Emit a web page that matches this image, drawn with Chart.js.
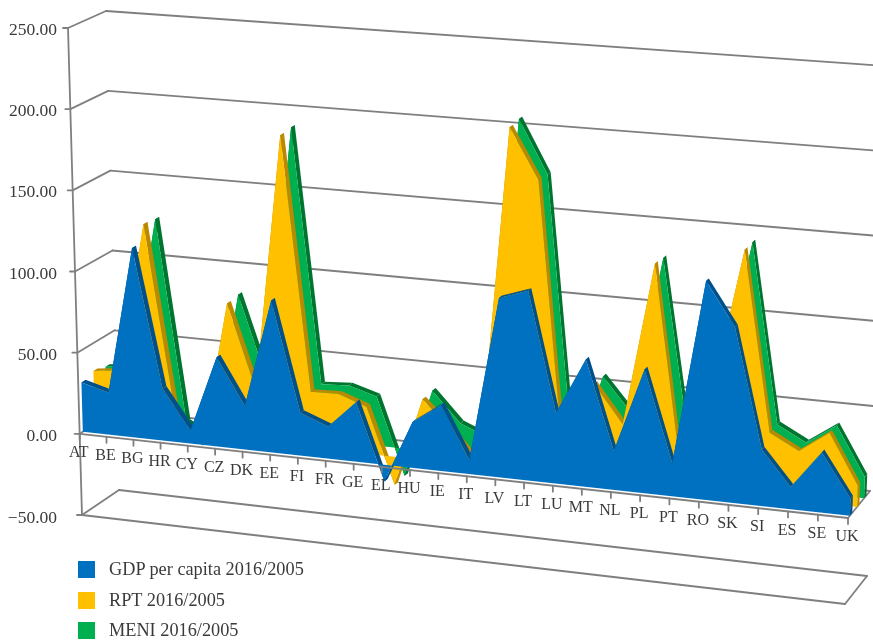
<!DOCTYPE html>
<html>
<head>
<meta charset="utf-8">
<title>GDP, RPT and MENI 2016/2005</title>
<style>
  body { margin: 0; background: #fff; }
  #wrap { position: relative; width: 873px; height: 640px; overflow: hidden; }
  #legend { position: absolute; left: 78px; top: 561px; font: 18.3px "Liberation Serif", serif; color: #3a3a3a; }
  #legend div { display: flex; align-items: center; height: 17px; margin-bottom: 13.5px; white-space: nowrap; }
  #legend i { width: 17px; height: 17px; margin-right: 14px; }
</style>
</head>
<body>
<div id="wrap">
  <canvas id="chart" width="873" height="640"></canvas>
  <div id="legend"></div>
</div>
<script src="https://cdn.jsdelivr.net/npm/chart.js@4/dist/chart.umd.min.js"></script>
<script>
const countries = ["AT","BE","BG","HR","CY","CZ","DK","EE","FI","FR","GE","EL","HU","IE","IT","LV","LT","LU","MT","NL","PL","PT","RO","SK","SI","ES","SE","UK"];
const gdp = [30.5,26,116.5,32,8,54.5,26.5,92.5,26,19.5,36,-10,27.6,39.6,8.5,107,113,42,75.5,23,73,19.5,128.5,103,33,13,35,10];
const rpt = [33,35,127,14,-6,83,32,189,34,34.5,28.5,-17,36.5,20,1,205,175,2,56,34,131,12,57,144,38,29,41.5,12.5];
const meni = [31,33,126,2,-8,84,34,190,34,35,30,-16.5,37,19,12,206,174,4,56,36,130,22,57,144,38,29,41,12.5];

const yTicks = [-50, 0, 50, 100, 150, 200, 250];
const seriesNames = ["GDP per capita 2016/2005", "RPT 2016/2005", "MENI 2016/2005"];
const faceColors = ["#0070c0", "#ffc000", "#00b050"];
const sideColors = ["#00508c", "#b98a00", "#00752f"];
const depths = [0.085, 0.41, 0.73];
const ribbon = 0.11;

/* ---------- 3D BOX (corners as seen on the page) ---------- */
const box = {
  frontLB: [82, 515], frontLT: [68, 28], frontRB: [845, 604], frontRT: [863, 88],
  backLB: [119, 490], backLT: [106, 11], backRB: [867, 576], backRT: [885, 66]
};

function mix(a, b, k) {
  return [a[0] + (b[0] - a[0]) * k, a[1] + (b[1] - a[1]) * k];
}

// t: 0..1 along the categories, h: 0..1 along the value axis, d: 0..1 into the depth
function project(t, h, d) {
  const u = t - 0.059 * t * (1 - t);
  const front = mix(mix(box.frontLB, box.frontRB, u), mix(box.frontLT, box.frontRT, u), h);
  const back = mix(mix(box.backLB, box.backRB, u), mix(box.backLT, box.backRT, u), h);
  return mix(front, back, d);
}

function polygon(ctx, pts, color) {
  ctx.fillStyle = color;
  ctx.beginPath();
  pts.forEach((p, i) => (i ? ctx.lineTo(p[0], p[1]) : ctx.moveTo(p[0], p[1])));
  ctx.closePath();
  ctx.fill();
}

function segment(ctx, a, b) {
  ctx.beginPath();
  ctx.moveTo(a[0], a[1]);
  ctx.lineTo(b[0], b[1]);
  ctx.stroke();
}

function heightOf(chart, value) {
  const s = chart.scales.y;
  return (s.bottom - s.getPixelForValue(value)) / (s.bottom - s.top);
}

function grayLine(ctx) {
  ctx.strokeStyle = "#7f7f7f";
  ctx.lineWidth = 1.8;
  ctx.lineCap = "round";
}

/* ---------- PLUGIN ---------- */
const box3d = {
  id: "box3d",
  beforeDatasetsDraw(chart) {
    const ctx = chart.ctx;
    ctx.save();
    grayLine(ctx);
    yTicks.forEach(v => {
      const h = heightOf(chart, v);
      segment(ctx, project(0, h, 0), project(0, h, 1));
      segment(ctx, project(0, h, 1), project(1, h, 1));
    });
    const zero = heightOf(chart, 0);
    segment(ctx, project(1, zero, 0), project(1, zero, 1));
    const floor = heightOf(chart, -50);
    segment(ctx, project(0, floor, 0), project(1, floor, 0));
    segment(ctx, project(1, floor, 0), project(1, floor, 1));
    ctx.restore();
  },
  beforeDatasetDraw(chart, args) {
    const ctx = chart.ctx;
    const area = chart.chartArea;
    const d = depths[args.index];
    const zero = heightOf(chart, 0);
    const pts = args.meta.data.map(el => ({
      t: (el.x - area.left) / (area.right - area.left),
      h: (area.bottom - el.y) / (area.bottom - area.top)
    }));
    ctx.save();
    // top side of the ribbon, then the cap at the right end, then the face
    for (let i = 0; i < pts.length - 1; i++) {
      const a = pts[i];
      const b = pts[i + 1];
      polygon(ctx, [project(a.t, a.h, d), project(b.t, b.h, d), project(b.t, b.h, d + ribbon), project(a.t, a.h, d + ribbon)], sideColors[args.index]);
    }
    const last = pts[pts.length - 1];
    polygon(ctx, [project(1, last.h, d), project(1, last.h, d + ribbon), project(1, zero, d + ribbon), project(1, zero, d)], sideColors[args.index]);
    const face = pts.map(p => project(p.t, p.h, d));
    face.push(project(1, zero, d), project(0, zero, d));
    polygon(ctx, face, faceColors[args.index]);
    ctx.restore();
  },
  afterDatasetsDraw(chart) {
    const ctx = chart.ctx;
    const zero = heightOf(chart, 0);
    const labels = chart.scales.x.getLabels();
    ctx.save();
    grayLine(ctx);
    // left axis with its small ticks
    segment(ctx, project(0, 0, 0), project(0, 1, 0));
    yTicks.forEach(v => {
      const p = project(0, heightOf(chart, v), 0);
      segment(ctx, [p[0] - 5, p[1]], p);
    });
    // front zero line with category ticks and labels
    segment(ctx, project(0, zero, 0), project(1, zero, 0));
    ctx.font = '16px "Liberation Serif", serif';
    ctx.textAlign = "center";
    ctx.textBaseline = "middle";
    ctx.fillStyle = "#3a3a3a";
    labels.forEach((label, i) => {
      const p = project(i / (labels.length - 1), zero, 0);
      segment(ctx, p, [p[0], p[1] + 6]);
      ctx.fillText(label, p[0] - 1, p[1] + 19);
    });
    ctx.restore();
  }
};

/* ---------- CHART ---------- */
new Chart(document.getElementById("chart"), {
  type: "line",
  data: {
    labels: countries,
    datasets: [gdp, rpt, meni].map((values, i) => ({
      label: seriesNames[i],
      data: values,
      backgroundColor: faceColors[i],
      borderColor: faceColors[i],
      showLine: false,
      pointRadius: 0,
      fill: false
    }))
  },
  options: {
    responsive: false,
    animation: false,
    layout: { padding: { top: 30, bottom: 122, left: 0, right: 0 } },
    plugins: { legend: { display: false }, tooltip: { enabled: false } },
    scales: {
      x: { display: false, offset: false },
      y: {
        min: -50,
        max: 250,
        afterFit: s => { s.width = 57; },
        grid: { display: false, drawTicks: false },
        border: { display: false },
        ticks: {
          stepSize: 50,
          padding: 0,
          color: "#3a3a3a",
          font: { family: "Liberation Serif", size: 17.5 },
          callback: v => (v < 0 ? "\u2212" : "") + Math.abs(v).toFixed(2)
        }
      }
    }
  },
  plugins: [box3d]
});

/* ---------- LEGEND ---------- */
const legendEl = document.getElementById("legend");
seriesNames.forEach((name, i) => {
  const row = document.createElement("div");
  const swatch = document.createElement("i");
  swatch.style.background = faceColors[i];
  row.appendChild(swatch);
  row.appendChild(document.createTextNode(name));
  legendEl.appendChild(row);
});
</script>
</body>
</html>
